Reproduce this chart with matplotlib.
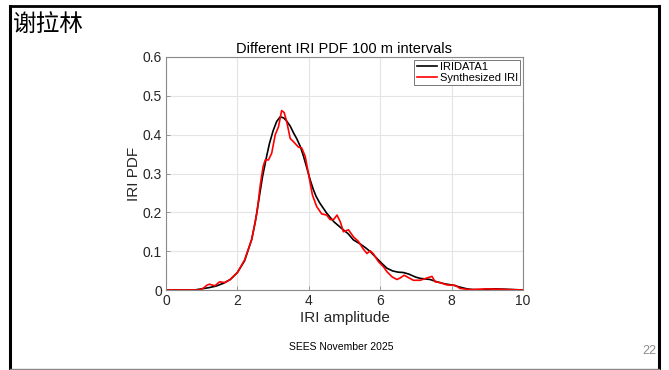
import matplotlib
matplotlib.use("Agg")
import matplotlib.pyplot as plt
from matplotlib.lines import Line2D

plt.rcParams['font.family'] = ['Liberation Sans', 'Noto Sans CJK SC', 'DejaVu Sans']

# IRIDATA1 (smooth PDF)
x_iri = [0, 0.8, 1.0, 1.2, 1.4, 1.6, 1.8, 2.0, 2.2, 2.4, 2.5, 2.6, 2.7, 2.82, 2.9,
         3.0, 3.1, 3.2, 3.3, 3.38, 3.48, 3.57, 3.66, 3.76, 3.85, 3.94, 4.04,
         4.13, 4.2, 4.3, 4.5, 4.7, 4.9, 5.1, 5.25, 5.45, 5.6, 5.72,
         5.9, 6.05, 6.19, 6.35, 6.5, 6.65, 6.8, 7.0, 7.12, 7.4, 7.59, 7.8, 8.06,
         8.25, 8.43, 8.6, 8.8, 9.0, 9.2, 9.5, 10]
y_iri = [0, 0, 0.003, 0.006, 0.01, 0.017, 0.027, 0.045, 0.075, 0.13, 0.175, 0.232,
         0.29, 0.345, 0.378, 0.41, 0.434, 0.446, 0.443, 0.435, 0.422, 0.405,
         0.39, 0.37, 0.345, 0.316, 0.283, 0.258, 0.242, 0.225, 0.198, 0.176,
         0.16, 0.145, 0.129, 0.118, 0.108, 0.099, 0.082, 0.068, 0.056, 0.049,
         0.046, 0.045, 0.041, 0.033, 0.03, 0.027, 0.021, 0.016, 0.012, 0.007,
         0.003, 0.001, 0.001, 0.002, 0.003, 0.002, 0]

# Synthesized IRI
x_syn = [0, 0.95, 1.05, 1.14, 1.22, 1.28, 1.37, 1.5, 1.65, 1.8, 2.0, 2.2, 2.4,
         2.55, 2.64, 2.72, 2.78, 2.87, 2.96, 3.06, 3.15, 3.24, 3.31, 3.38, 3.48,
         3.57, 3.71, 3.8, 3.9, 3.99, 4.1, 4.22, 4.36, 4.5, 4.6, 4.7, 4.79, 4.88,
         4.97, 5.11, 5.25, 5.39, 5.53, 5.63, 5.72, 5.81, 5.95, 6.09, 6.19, 6.33,
         6.47, 6.56, 6.67, 6.79, 6.93, 7.12, 7.31, 7.45, 7.54, 7.68, 7.87, 8.1,
         8.24, 8.5, 8.8, 9.0, 9.3, 9.6, 10]
y_syn = [0, 0, 0.005, 0.012, 0.015, 0.013, 0.011, 0.021, 0.019, 0.027, 0.045,
         0.077, 0.13, 0.2, 0.27, 0.318, 0.335, 0.335, 0.352, 0.4, 0.42, 0.462,
         0.457, 0.434, 0.39, 0.382, 0.368, 0.366, 0.344, 0.3, 0.245, 0.215,
         0.196, 0.193, 0.181, 0.182, 0.193, 0.176, 0.15, 0.155, 0.137, 0.125,
         0.105, 0.094, 0.101, 0.093, 0.073, 0.06, 0.047, 0.034, 0.027, 0.031,
         0.038, 0.032, 0.025, 0.025, 0.031, 0.035, 0.021, 0.019, 0.013, 0.012,
         0.004, 0.001, 0.002, 0.003, 0.002, 0.001, 0]

fig = plt.figure(figsize=(6.69, 3.70), dpi=100)
fig.patch.set_facecolor('white')

# slide frame
W, H = 669.0, 370.0
fig.add_artist(Line2D([10 / W, 10 / W], [0, 1 - 6 / H], color='black', lw=2.2))
fig.add_artist(Line2D([10 / W, 659 / W], [1 - 6 / H, 1 - 6 / H], color='black', lw=2.0))
fig.add_artist(Line2D([659 / W, 659 / W], [1 - 6 / H, 1.5 / H], color='black', lw=2.2))
fig.add_artist(Line2D([10 / W, 659 / W], [1.5 / H, 1.5 / H], color='#888888', lw=1.0))

fig.text(13 / W, 1 - 24 / H, '谢拉林', fontsize=17, va='center', ha='left',
         family=['Noto Sans CJK SC'])
fig.text(341 / W, 1 - 347 / H, 'SEES November 2025', fontsize=7.5, ha='center', va='center')
fig.text(656 / W, 1 - 351 / H, '22', fontsize=9, ha='right', va='center', color='#8c8c8c')

ax = fig.add_axes([166 / W, 1 - 290 / H, (523 - 166) / W, (290 - 57) / H])
ax.plot(x_iri, y_iri, color='black', lw=1.2, label='IRIDATA1')
ax.plot(x_syn, y_syn, color='red', lw=1.2, label='Synthesized IRI')
ax.set_xlim(0, 10)
ax.set_ylim(0, 0.6)
ax.set_xticks([0, 2, 4, 6, 8, 10])
ax.set_yticks([0, 0.1, 0.2, 0.3, 0.4, 0.5, 0.6])
ax.set_yticklabels(['0', '0.1', '0.2', '0.3', '0.4', '0.5', '0.6'])
ax.grid(True, color='#e4e4e4', lw=0.8)
ax.set_axisbelow(True)
for s in ax.spines.values():
    s.set_color('#8a8a8a')
    s.set_linewidth(0.8)
ax.tick_params(direction='in', length=3, width=0.6, color='#8a8a8a',
               labelsize=10, labelcolor='#262626', pad=3)
ax.set_xlabel('IRI amplitude', fontsize=11, color='#262626', labelpad=2)
ax.set_ylabel('IRI PDF', fontsize=11, color='#262626', labelpad=1)
ax.set_title('Different IRI PDF 100 m intervals', fontsize=10.5, pad=3)
leg = ax.legend(loc='upper right', fontsize=8, frameon=True, fancybox=False,
                borderpad=0.2, labelspacing=0.05, handlelength=1.8, handletextpad=0.3,
                borderaxespad=0.25)
leg.get_frame().set_edgecolor('#555555')
leg.get_frame().set_linewidth(0.7)

fig.savefig('out.png', dpi=100)
